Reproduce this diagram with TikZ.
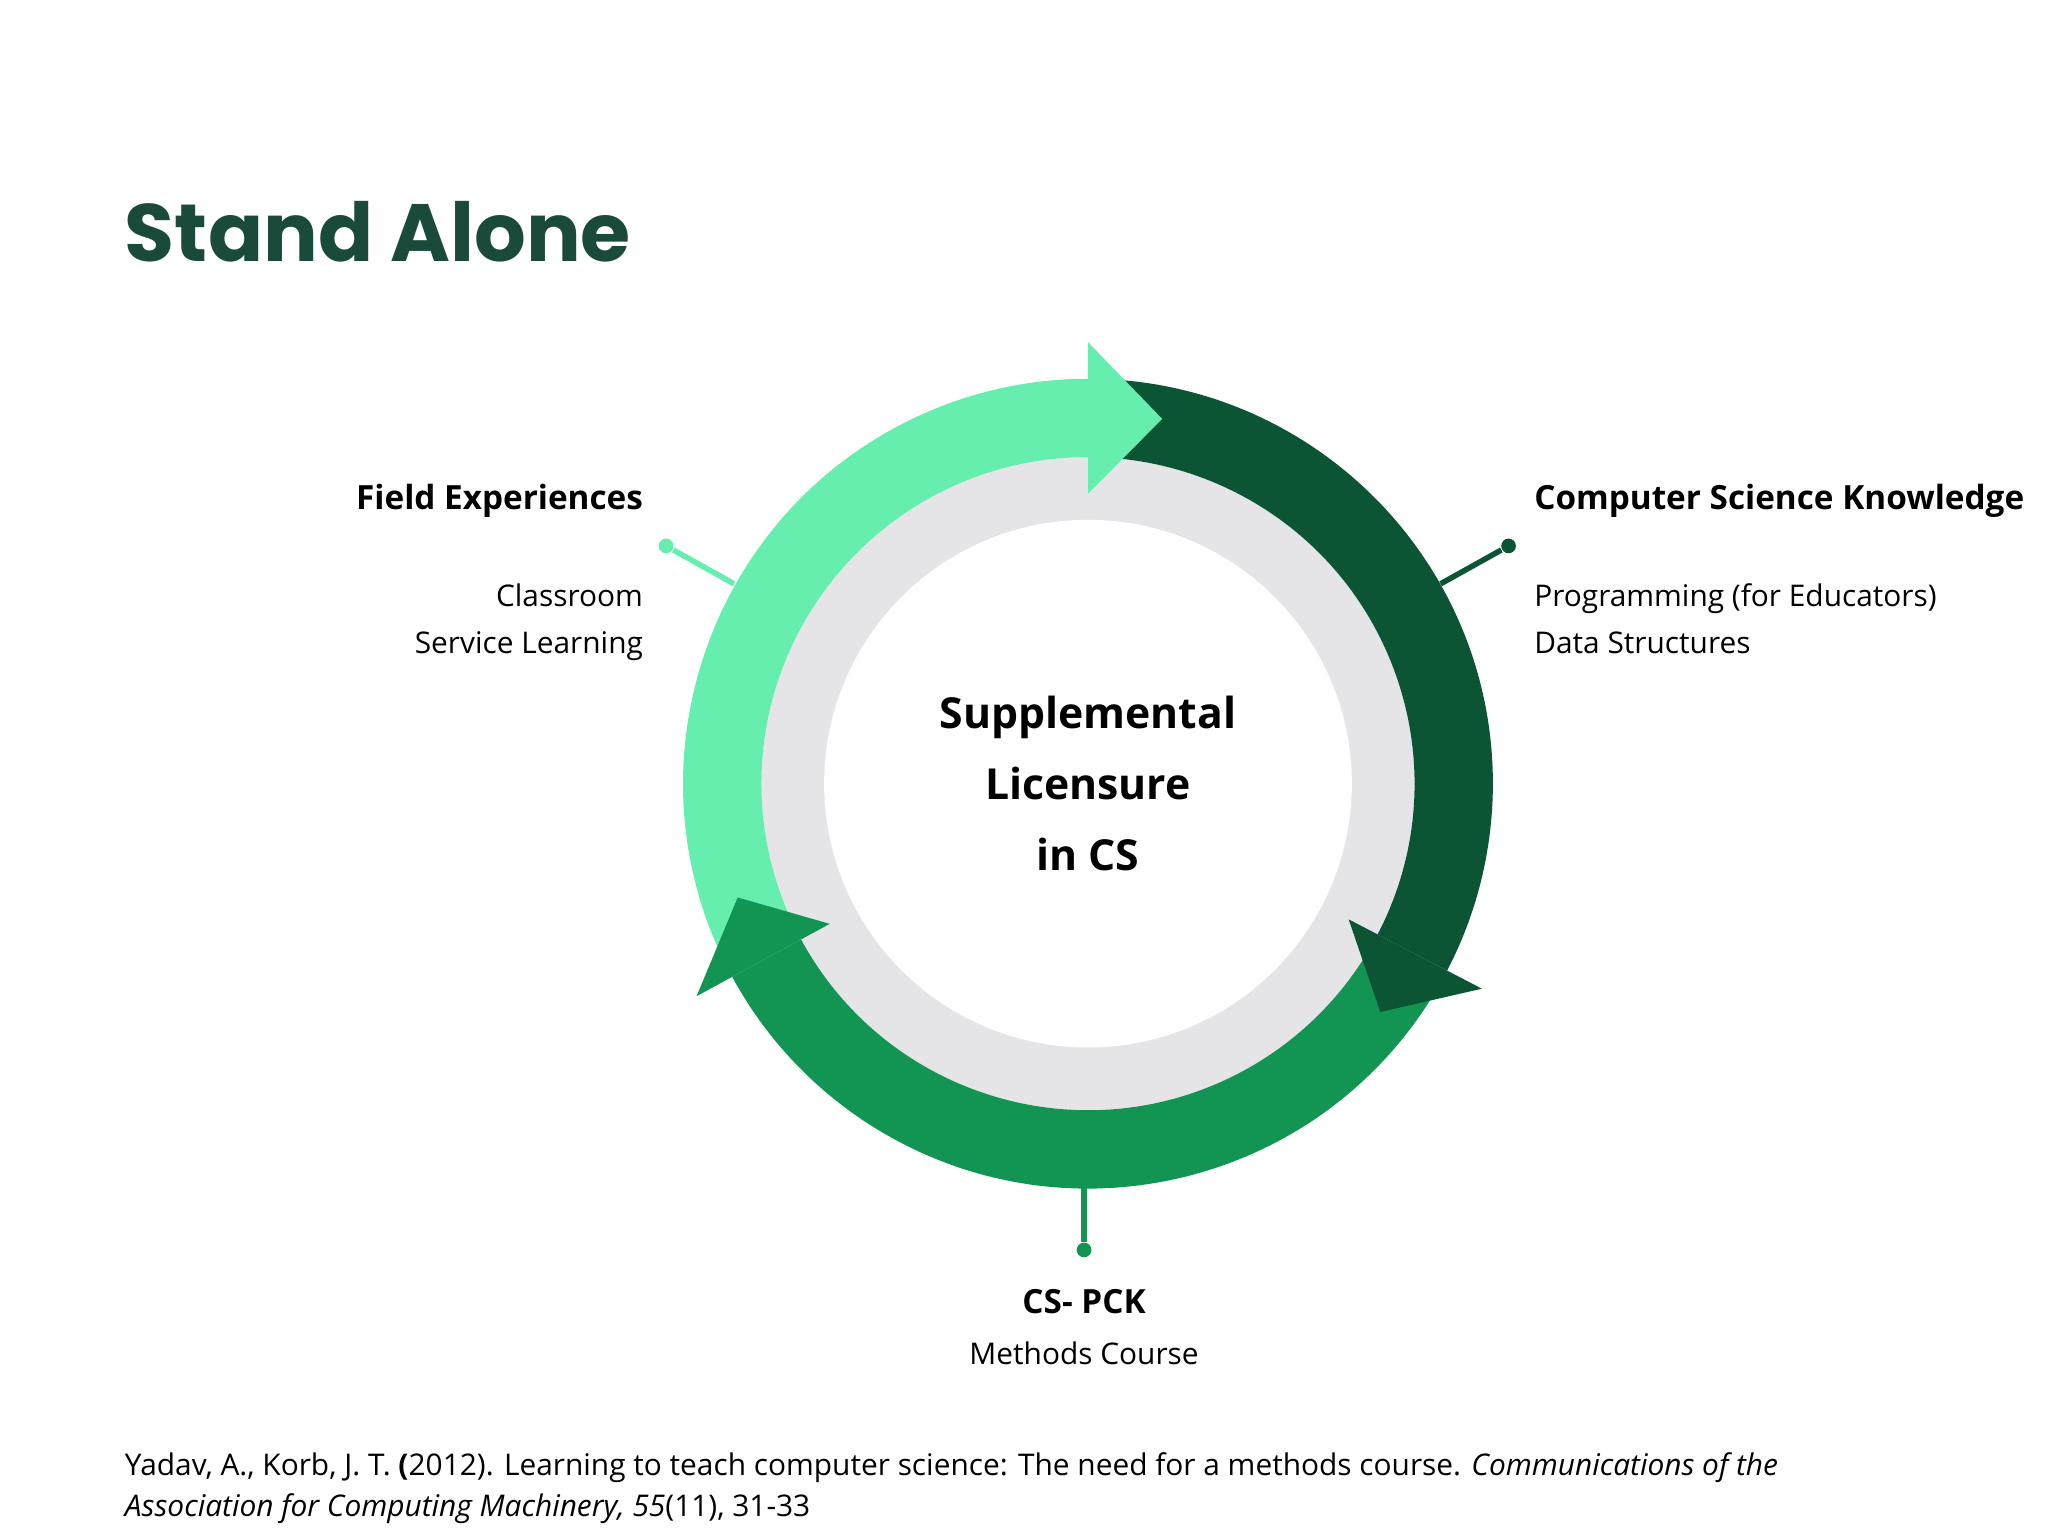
\documentclass[tikz,border=0pt]{standalone}
\usepackage{fontspec}
\setmainfont{Open Sans}
\newfontfamily\titlefont{Poppins}
\definecolor{lgreen}{HTML}{66EEAE}
\definecolor{dgreen}{HTML}{0B5535}
\definecolor{mgreen}{HTML}{129552}
\definecolor{ttl}{HTML}{1A4A3A}
\definecolor{ringgray}{HTML}{E5E4E6}
\begin{document}
\begin{tikzpicture}[x=0.01cm,y=0.01cm,
  hd/.style={font=\fontsize{7.25}{9}\selectfont\bfseries},
  bd/.style={font=\fontsize{6.5}{8}\selectfont},
  dotc/.style={circle,inner sep=0pt,minimum size=3.2pt}]
\useasboundingbox (0,0) rectangle (1568,1176);
\fill[white] (0,0) rectangle (1568,1176);
\node[anchor=base west,text=ttl,inner sep=0pt,font=\titlefont\fontsize{17.7}{20}\selectfont\bfseries] (title) at (95,976) {Stand Alone};
\begin{scope}[shift={(833,576)}]
\fill[ringgray] (0,0) circle (250);
\fill[white] (0,0) circle (202);
% bodies
\fill[mgreen] (-30:310) arc[start angle=-30,end angle=-151.5,radius=310] -- (208.5:250) arc[start angle=208.5,end angle=330,radius=250] -- cycle;
\fill[dgreen] (90:310) arc[start angle=90,end angle=-27.5,radius=310] -- (-27.5:250) arc[start angle=-27.5,end angle=90,radius=250] -- cycle;
\fill[lgreen] (207:310) arc[start angle=207,end angle=90,radius=310] -- (90:250) arc[start angle=90,end angle=207,radius=250] -- cycle;
% heads
\fill[dgreen] (-27.5:225) -- (-38:284) -- (-27.5:340) -- cycle;
\fill[lgreen] (90:338) -- (78.5:285) -- (90:222) -- cycle;
\fill[mgreen] (208.5:225) -- (198:282) -- (208.5:341) -- cycle;
\node[align=center,font=\fontsize{9.3}{15.5}\selectfont\bfseries] (center) at (0,0) {Supplemental\\Licensure\\in CS};
\end{scope}
% connectors
\node[dotc,fill=lgreen] (d1) at (510,758) {};
\coordinate (e1) at (562,729);
\draw[lgreen,line width=1.2pt] (d1) -- (e1);
\node[dotc,fill=dgreen] (d2) at (1155,758) {};
\coordinate (e2) at (1103,729);
\draw[dgreen,line width=1.2pt] (d2) -- (e2);
\node[dotc,fill=mgreen] (d3) at (830,219) {};
\coordinate (e3) at (830,268);
\draw[mgreen,line width=1.2pt] (d3) -- (e3);
% labels
\node[hd,anchor=base east,inner sep=0pt] (fe) at (493,786) {Field Experiences};
\node[bd,anchor=base east,inner sep=0pt] (fe1) at (493,712) {Classroom};
\node[bd,anchor=base east,inner sep=0pt] (fe2) at (493,676) {Service Learning};
\node[hd,anchor=base west,inner sep=0pt] (csk) at (1174,786) {Computer Science Knowledge};
\node[bd,anchor=base west,inner sep=0pt] (csk1) at (1174,712) {Programming (for Educators)};
\node[bd,anchor=base west,inner sep=0pt] (csk2) at (1174,676) {Data Structures};
\node[hd,anchor=base,inner sep=0pt] (pck) at (830,170) {CS- PCK};
\node[bd,anchor=base,inner sep=0pt] (pck1) at (830,131) {Methods Course};
\node[bd,anchor=base west,inner sep=0pt] (cit1) at (95,46) {Yadav, A., Korb, J. T. \textbf{(}2012). Learning to teach computer science: The need for a methods course. \textit{Communications of the}};
\node[bd,anchor=base west,inner sep=0pt] (cit2) at (95,15) {\textit{Association for Computing Machinery, 55}(11), 31-33};
\end{tikzpicture}
\end{document}
